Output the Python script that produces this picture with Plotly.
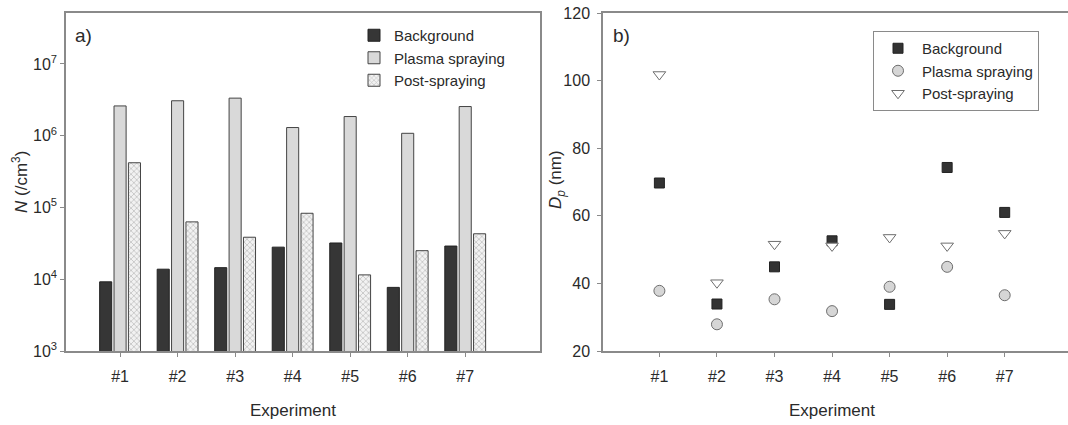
import plotly.graph_objects as go

# ---- data ----
experiments = ["#1", "#2", "#3", "#4", "#5", "#6", "#7"]
exp_pos = [1, 2, 3, 4, 5, 6, 7]

n_background = [9.2e3, 1.38e4, 1.45e4, 2.8e4, 3.2e4, 7.7e3, 2.9e4]
n_plasma = [2.6e6, 3.07e6, 3.34e6, 1.3e6, 1.85e6, 1.08e6, 2.55e6]
n_post = [4.2e5, 6.3e4, 3.85e4, 8.3e4, 1.15e4, 2.5e4, 4.3e4]

dp_background = [69.7, 33.9, 44.9, 52.6, 33.8, 74.3, 61.0]
dp_plasma = [37.8, 27.9, 35.3, 31.8, 39.0, 44.9, 36.5]
dp_post = [101.8, 40.2, 51.6, 51.1, 53.6, 51.1, 54.8]

n_tickvals = [1e3, 1e4, 1e5, 1e6, 1e7]
n_ticktext = ["10<sup>3</sup>", "10<sup>4</sup>", "10<sup>5</sup>", "10<sup>6</sup>", "10<sup>7</sup>"]
dp_tickvals = [20, 40, 60, 80, 100, 120]

series_names = ["Background", "Plasma spraying", "Post-spraying"]

# ---- figure ----
W, H = 1068, 425
FONT = "Liberation Sans, Arial, sans-serif"
TXT = "#2a2a2a"
FRAME = "#8a8a8a"

fig = go.Figure()

fig.add_trace(go.Bar(
    x=exp_pos, y=n_background, name=series_names[0],
    marker=dict(color="#363636", line=dict(color="#222222", width=1)),
    xaxis="x", yaxis="y", legend="legend"))
fig.add_trace(go.Bar(
    x=exp_pos, y=n_plasma, name=series_names[1],
    marker=dict(color="#d9d9d9", line=dict(color="#444444", width=1)),
    xaxis="x", yaxis="y", legend="legend"))
fig.add_trace(go.Bar(
    x=exp_pos, y=n_post, name=series_names[2],
    marker=dict(color="#f2f2f2", line=dict(color="#444444", width=1),
                pattern=dict(shape="x", size=4, solidity=0.35, fgcolor="#909090", bgcolor="#f2f2f2")),
    xaxis="x", yaxis="y", legend="legend"))

fig.add_trace(go.Scatter(
    x=exp_pos, y=dp_background, name=series_names[0], mode="markers",
    marker=dict(symbol="square", size=10, color="#333333", line=dict(color="#222222", width=1)),
    xaxis="x2", yaxis="y2", legend="legend2"))
fig.add_trace(go.Scatter(
    x=exp_pos, y=dp_plasma, name=series_names[1], mode="markers",
    marker=dict(symbol="circle", size=11, color="#d6d6d6", line=dict(color="#6e6e6e", width=1)),
    xaxis="x2", yaxis="y2", legend="legend2"))
fig.add_trace(go.Scatter(
    x=exp_pos, y=dp_post, name=series_names[2], mode="markers",
    marker=dict(symbol="triangle-down", size=11, color="#ffffff", line=dict(color="#6e6e6e", width=1)),
    xaxis="x2", yaxis="y2", legend="legend2"))

axis_common = dict(showgrid=False, zeroline=False, linecolor=FRAME, linewidth=1.5,
                   ticks="outside", ticklen=4, tickcolor=FRAME, tickwidth=1,
                   tickfont=dict(family=FONT, size=16, color=TXT), automargin=False)

fig.update_layout(
    width=W, height=H,
    margin=dict(l=0, r=0, t=0, b=0),
    paper_bgcolor="white", plot_bgcolor="white",
    font=dict(family=FONT, color=TXT),
    barmode="group", bargap=0.25, bargroupgap=0.16,
    xaxis=dict(domain=[66 / W, 540 / W], anchor="y", range=[0.06, 8.3],
               tickvals=exp_pos, ticktext=experiments, mirror=True,
               ticklabelstandoff=6, **axis_common),
    yaxis=dict(domain=[1 - 351 / H, 1 - 13 / H], anchor="x", type="log", range=[3, 7.71],
               tickvals=n_tickvals, ticktext=n_ticktext, mirror=True, **axis_common),
    xaxis2=dict(domain=[603 / W, 1.0], anchor="y2", range=[0.02, 8.1],
                tickvals=exp_pos, ticktext=experiments, mirror=True,
                ticklabelstandoff=6, **axis_common),
    yaxis2=dict(domain=[1 - 351 / H, 1 - 13 / H], anchor="x2", range=[20, 120],
                tickvals=dp_tickvals, mirror=False, ticklabelstandoff=4, **axis_common),
    legend=dict(x=354 / W, y=1 - 19 / H, xanchor="left", yanchor="top",
                bgcolor="rgba(0,0,0,0)", borderwidth=0, tracegroupgap=0,
                font=dict(family=FONT, size=15, color=TXT)),
    legend2=dict(x=873 / W, y=1 - 31 / H, xanchor="left", yanchor="top",
                 bgcolor="white", bordercolor=FRAME, borderwidth=1, tracegroupgap=0,
                 itemwidth=38,
                 font=dict(family=FONT, size=15, color=TXT)),
    showlegend=True,
)

ann_font = dict(family=FONT, size=17, color=TXT)
fig.add_annotation(text="a)", xref="paper", yref="paper", x=73 / W, y=1 - 35 / H,
                   xanchor="left", yanchor="middle", showarrow=False,
                   font=dict(family=FONT, size=19, color=TXT))
fig.add_annotation(text="b)", xref="paper", yref="paper", x=611 / W, y=1 - 35 / H,
                   xanchor="left", yanchor="middle", showarrow=False,
                   font=dict(family=FONT, size=19, color=TXT))
fig.add_annotation(text="<i>N</i> (/cm<sup>3</sup>)", xref="paper", yref="paper",
                   x=20 / W, y=1 - 182 / H, xanchor="center", yanchor="middle",
                   textangle=-90, showarrow=False, font=ann_font)
fig.add_annotation(text="<i>D</i><sub><i>p</i></sub> (nm)", xref="paper", yref="paper",
                   x=557 / W, y=1 - 180 / H, xanchor="center", yanchor="middle",
                   textangle=-90, showarrow=False, font=ann_font)
fig.add_annotation(text="Experiment", xref="x", yref="paper", x=4, y=1 - 410 / H,
                   xanchor="center", yanchor="middle", showarrow=False, font=ann_font)
fig.add_annotation(text="Experiment", xref="x2", yref="paper", x=4, y=1 - 410 / H,
                   xanchor="center", yanchor="middle", showarrow=False, font=ann_font)

fig.write_html("out.html", config={"displayModeBar": False},
               post_script="document.body.style.margin='0px';")
